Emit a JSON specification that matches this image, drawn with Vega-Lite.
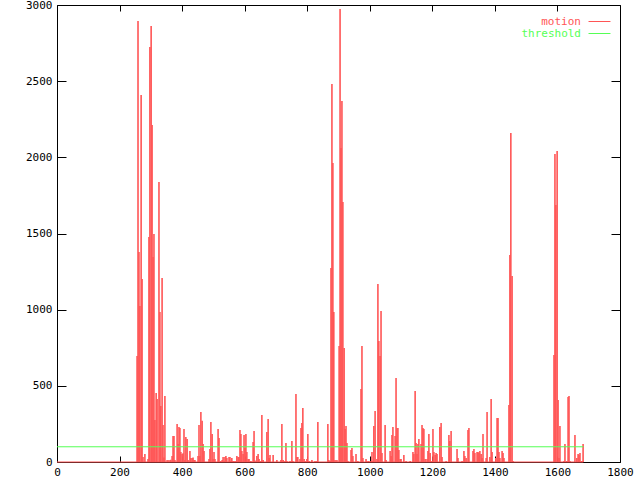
{
  "$schema": "https://vega.github.io/schema/vega-lite/v6.json",
  "width": 563,
  "height": 457,
  "autosize": "none",
  "padding": {"left": 57, "top": 5, "right": 20, "bottom": 18},
  "background": "white",
  "config": {
    "view": {"stroke": "black", "strokeWidth": 1},
    "axis": {
      "domain": false, "grid": false, "tickColor": "black", "tickWidth": 1,
      "labelFont": "DejaVu Sans Mono", "labelFontSize": 11, "labelColor": "black",
      "labelFlush": false, "labelOverlap": false, "title": null, "format": "d"
    }
  },
  "resolve": {"axis": {"x": "independent", "y": "independent"}},
  "layer": [
    {
      "data": {"values": [
        {"d":256,"v":696},{"d":259,"v":2895},{"d":262,"v":1378},{"d":265,"v":1024},{"d":269,"v":2409},{"d":272,"v":1201},{"d":275,"v":33},{"d":281,"v":52},{"d":291,"v":20},{"d":294,"v":1477},{"d":297,"v":2724},{"d":301,"v":2862},{"d":304,"v":2212},{"d":307,"v":1346},{"d":310,"v":1497},{"d":313,"v":276},{"d":317,"v":453},{"d":320,"v":414},{"d":326,"v":1838},{"d":329,"v":985},{"d":332,"v":368},{"d":336,"v":1208},{"d":339,"v":243},{"d":342,"v":30},{"d":345,"v":433},{"d":352,"v":13},{"d":358,"v":13},{"d":364,"v":15},{"d":368,"v":40},{"d":371,"v":170},{"d":374,"v":170},{"d":377,"v":13},{"d":384,"v":249},{"d":387,"v":118},{"d":390,"v":230},{"d":393,"v":223},{"d":396,"v":65},{"d":400,"v":52},{"d":403,"v":58},{"d":406,"v":217},{"d":409,"v":13},{"d":412,"v":164},{"d":416,"v":151},{"d":419,"v":13},{"d":425,"v":72},{"d":428,"v":26},{"d":432,"v":26},{"d":435,"v":30},{"d":438,"v":13},{"d":441,"v":13},{"d":451,"v":40},{"d":454,"v":243},{"d":457,"v":40},{"d":460,"v":328},{"d":464,"v":270},{"d":467,"v":118},{"d":470,"v":72},{"d":486,"v":20},{"d":489,"v":85},{"d":492,"v":263},{"d":496,"v":184},{"d":499,"v":20},{"d":502,"v":66},{"d":505,"v":20},{"d":515,"v":217},{"d":518,"v":158},{"d":524,"v":7},{"d":528,"v":13},{"d":531,"v":33},{"d":534,"v":7},{"d":537,"v":33},{"d":540,"v":39},{"d":543,"v":26},{"d":550,"v":33},{"d":553,"v":33},{"d":556,"v":7},{"d":559,"v":26},{"d":563,"v":7},{"d":566,"v":7},{"d":572,"v":7},{"d":575,"v":39},{"d":579,"v":33},{"d":582,"v":33},{"d":585,"v":210},{"d":588,"v":184},{"d":591,"v":72},{"d":595,"v":53},{"d":598,"v":177},{"d":601,"v":92},{"d":604,"v":184},{"d":607,"v":66},{"d":611,"v":20},{"d":614,"v":20},{"d":620,"v":7},{"d":627,"v":131},{"d":630,"v":204},{"d":633,"v":10},{"d":639,"v":39},{"d":643,"v":53},{"d":646,"v":20},{"d":652,"v":7},{"d":655,"v":308},{"d":659,"v":13},{"d":671,"v":197},{"d":675,"v":282},{"d":678,"v":26},{"d":681,"v":46},{"d":691,"v":46},{"d":703,"v":13},{"d":716,"v":13},{"d":719,"v":249},{"d":723,"v":13},{"d":729,"v":7},{"d":732,"v":125},{"d":735,"v":7},{"d":745,"v":7},{"d":751,"v":138},{"d":754,"v":7},{"d":764,"v":446},{"d":767,"v":33},{"d":770,"v":33},{"d":777,"v":20},{"d":780,"v":223},{"d":783,"v":256},{"d":786,"v":354},{"d":790,"v":20},{"d":793,"v":7},{"d":799,"v":20},{"d":802,"v":184},{"d":806,"v":7},{"d":815,"v":13},{"d":825,"v":7},{"d":831,"v":7},{"d":834,"v":263},{"d":866,"v":249},{"d":869,"v":13},{"d":873,"v":7},{"d":876,"v":1273},{"d":879,"v":2481},{"d":882,"v":1963},{"d":885,"v":985},{"d":889,"v":13},{"d":895,"v":13},{"d":902,"v":761},{"d":905,"v":2973},{"d":908,"v":2061},{"d":911,"v":2370},{"d":914,"v":1707},{"d":918,"v":748},{"d":921,"v":217},{"d":924,"v":236},{"d":927,"v":125},{"d":930,"v":7},{"d":940,"v":79},{"d":943,"v":92},{"d":946,"v":39},{"d":956,"v":52},{"d":962,"v":7},{"d":972,"v":479},{"d":975,"v":761},{"d":978,"v":26},{"d":988,"v":20},{"d":991,"v":7},{"d":997,"v":7},{"d":1004,"v":7},{"d":1007,"v":66},{"d":1010,"v":7},{"d":1013,"v":236},{"d":1017,"v":335},{"d":1023,"v":20},{"d":1026,"v":1168},{"d":1029,"v":794},{"d":1033,"v":696},{"d":1036,"v":991},{"d":1039,"v":59},{"d":1049,"v":243},{"d":1052,"v":13},{"d":1065,"v":72},{"d":1068,"v":39},{"d":1071,"v":177},{"d":1074,"v":230},{"d":1081,"v":170},{"d":1084,"v":551},{"d":1087,"v":223},{"d":1090,"v":223},{"d":1093,"v":79},{"d":1097,"v":20},{"d":1100,"v":20},{"d":1109,"v":46},{"d":1116,"v":7},{"d":1129,"v":7},{"d":1138,"v":66},{"d":1141,"v":52},{"d":1145,"v":466},{"d":1148,"v":125},{"d":1151,"v":52},{"d":1154,"v":118},{"d":1157,"v":151},{"d":1164,"v":118},{"d":1167,"v":243},{"d":1170,"v":223},{"d":1173,"v":217},{"d":1177,"v":20},{"d":1183,"v":20},{"d":1186,"v":72},{"d":1189,"v":184},{"d":1193,"v":59},{"d":1199,"v":7},{"d":1202,"v":217},{"d":1205,"v":66},{"d":1209,"v":46},{"d":1212,"v":59},{"d":1215,"v":53},{"d":1224,"v":230},{"d":1228,"v":256},{"d":1231,"v":33},{"d":1244,"v":7},{"d":1253,"v":177},{"d":1256,"v":138},{"d":1260,"v":204},{"d":1279,"v":85},{"d":1282,"v":26},{"d":1295,"v":7},{"d":1301,"v":72},{"d":1304,"v":39},{"d":1308,"v":26},{"d":1314,"v":210},{"d":1317,"v":223},{"d":1330,"v":72},{"d":1333,"v":85},{"d":1336,"v":59},{"d":1343,"v":66},{"d":1346,"v":66},{"d":1349,"v":59},{"d":1352,"v":72},{"d":1356,"v":53},{"d":1359,"v":26},{"d":1362,"v":184},{"d":1372,"v":26},{"d":1375,"v":328},{"d":1384,"v":33},{"d":1388,"v":413},{"d":1391,"v":66},{"d":1403,"v":26},{"d":1407,"v":289},{"d":1410,"v":289},{"d":1413,"v":66},{"d":1416,"v":26},{"d":1423,"v":72},{"d":1426,"v":59},{"d":1429,"v":26},{"d":1445,"v":374},{"d":1448,"v":1359},{"d":1451,"v":2160},{"d":1455,"v":1221},{"d":1458,"v":7},{"d":1589,"v":702},{"d":1592,"v":2022},{"d":1595,"v":1687},{"d":1599,"v":2041},{"d":1602,"v":407},{"d":1605,"v":26},{"d":1608,"v":236},{"d":1621,"v":7},{"d":1624,"v":118},{"d":1630,"v":7},{"d":1634,"v":427},{"d":1637,"v":433},{"d":1640,"v":7},{"d":1656,"v":177},{"d":1662,"v":26},{"d":1666,"v":53},{"d":1669,"v":46},{"d":1672,"v":59},{"d":1678,"v":7},{"d":1682,"v":118}
      ]},
      "mark": {"type": "rule", "strokeWidth": 1.6},
      "encoding": {
        "x": {"field": "d", "type": "quantitative",
              "scale": {"domain": [0, 1800], "nice": false, "zero": false},
              "axis": {"orient": "bottom", "values": [0,200,400,600,800,1000,1200,1400,1600,1800], "tickSize": -6, "labelPadding": 10}},
        "y": {"field": "v", "type": "quantitative",
              "scale": {"domain": [0, 3000], "nice": false},
              "axis": {"orient": "left", "values": [0,500,1000,1500,2000,2500,3000], "tickSize": -9, "labelPadding": 14}},
        "y2": {"datum": 0},
        "color": {"datum": "motion", "type": "nominal",
                  "scale": {"domain": ["motion", "threshold"], "range": ["#ff5555", "#55ff55"]},
                  "legend": {
                    "title": null, "orient": "none", "legendX": 537, "legendY": 11,
                    "symbolType": "M-4,0H4", "symbolSize": 30, "symbolStrokeWidth": 1,
                    "labelFont": "DejaVu Sans Mono", "labelFontSize": 11,
                    "labelAlign": "right", "labelOffset": -24, "rowPadding": 0, "padding": 0,
                    "encode": {"labels": {"update": {"fill": {"signal": "datum.value === 'motion' ? '#ff5555' : '#55ff55'"}}}}
                  }}
      }
    },
    {
      "data": {"values": [
        {"series": "motion", "start": 0, "end": 1683, "value": 0},
        {"series": "threshold", "start": 0, "end": 1683, "value": 100}
      ]},
      "mark": {"type": "rule", "strokeWidth": 1},
      "encoding": {
        "x": {"field": "start", "type": "quantitative",
              "axis": {"orient": "top", "values": [0,200,400,600,800,1000,1200,1400,1600,1800], "tickSize": -6, "labels": false}},
        "x2": {"field": "end"},
        "y": {"field": "value", "type": "quantitative",
              "axis": {"orient": "right", "values": [0,500,1000,1500,2000,2500,3000], "tickSize": -9, "labels": false}},
        "color": {"field": "series", "type": "nominal", "legend": null}
      }
    }
  ]
}
